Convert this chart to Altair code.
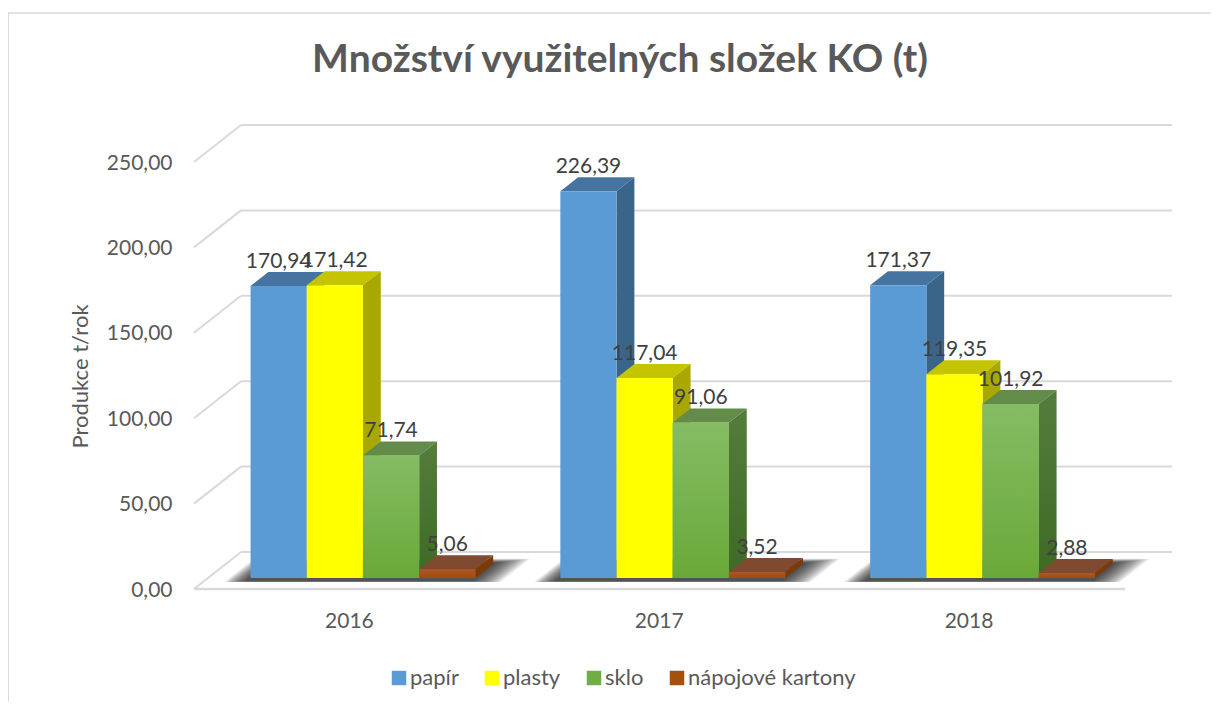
import altair as alt
import pandas as pd

years = [2016, 2017, 2018]
series = ["papír", "plasty", "sklo", "nápojové kartony"]
values = {
    "papír": [170.94, 226.39, 171.37],
    "plasty": [171.42, 117.04, 119.35],
    "sklo": [71.74, 91.06, 101.92],
    "nápojové kartony": [5.06, 3.52, 2.88],
}
front_colors = ["#5b9bd5", "#ffff00", "#70ad47", "#a5500f"]
top_colors = ["#44749f", "#c4c400", "#638b4a", "#804a31"]
side_colors = ["#3b6489", "#a8a800", "#4a7332", "#7c3a0a"]
y_ticks = [0, 50, 100, 150, 200, 250]

FONT = "Lato"
TEXT = "#595959"
GRID = "#d9d9d9"

# plot-area size and scales (year units / value units)
W, H = 978, 464
PX_PER_YEAR = 309.8
PX_PER_VAL = 1.708
x_dom = [2015.5, 2015.5 + W / PX_PER_YEAR]
y_dom = [0, H / PX_PER_VAL]
xs = alt.Scale(domain=x_dom, nice=False, zero=False)
ys = alt.Scale(domain=y_dom, nice=False, zero=False)
X = lambda f="x:Q": alt.X(f, scale=xs, axis=None)
Y = lambda f="y:Q": alt.Y(f, scale=ys, axis=None)

# oblique projection of depth (0 = front of floor, 1 = back wall)
DX = 47 / PX_PER_YEAR
DY = 37 / PX_PER_VAL
D0, D1 = 0.297, 0.676
BAR = 56.2 / PX_PER_YEAR
GROUP_LEFT = -0.5 + 42.6 / PX_PER_YEAR


def gradient(c0, c1):
    return alt.Gradient(gradient="linear", x1=0, y1=0, x2=0, y2=1,
                        stops=[alt.GradientStop(color=c0, offset=0),
                               alt.GradientStop(color=c1, offset=1)])


def bar_x(year, i):
    return year + GROUP_LEFT + i * BAR


def side_df(i, name):
    rows = []
    for year, v in zip(years, values[name]):
        xr = bar_x(year, i) + BAR
        for d in (D0, D1):
            rows.append(dict(g=year, x=xr + d * DX, top=v + d * DY, bot=d * DY))
    return pd.DataFrame(rows)


def top_df(i, name):
    rows = []
    for year, v in zip(years, values[name]):
        xl = bar_x(year, i)
        for d in (D0, D1):
            rows.append(dict(g=year, y=v + d * DY, x=xl + d * DX, x2=xl + BAR + d * DX))
    return pd.DataFrame(rows)


def front_df(i, name):
    rows = []
    for year, v in zip(years, values[name]):
        xl = bar_x(year, i) + D0 * DX
        rows.append(dict(series=name, x=xl, x2=xl + BAR, y=v + D0 * DY, y2=D0 * DY,
                         cx=xl + BAR / 2, label=f"{v:.2f}".replace(".", ",")))
    return pd.DataFrame(rows)


# walls and floor
back_df = pd.DataFrame({"x": [x_dom[0] + DX] * 6, "x2": [x_dom[1]] * 6,
                        "y": [t + DY for t in y_ticks]})
diag_df = pd.DataFrame({"x": [x_dom[0]] * 6, "x2": [x_dom[0] + DX] * 6,
                        "y": y_ticks, "y2": [t + DY for t in y_ticks]})
floor_df = pd.DataFrame({"x": [x_dom[0]], "x2": [x_dom[1] - DX], "y": [0]})

back = alt.Chart(back_df).mark_rule(color=GRID, strokeWidth=2).encode(x=X(), x2="x2:Q", y=Y())
diag = alt.Chart(diag_df).mark_rule(color=GRID, strokeWidth=2).encode(x=X(), x2="x2:Q", y=Y(), y2="y2:Q")
floor = alt.Chart(floor_df).mark_rule(color=GRID, strokeWidth=2.5).encode(x=X(), x2="x2:Q", y=Y())

# real axes, on a layer of their own
axes_df = pd.DataFrame({"x": [years[0]], "y": [0]})
axes = alt.Chart(axes_df).mark_point(opacity=0).encode(
    x=alt.X("x:Q", scale=xs, axis=alt.Axis(
        values=years, format="d", title=None, domain=False, ticks=False, grid=False,
        labelFont=FONT, labelFontSize=21, labelColor=TEXT, labelPadding=21)),
    y=alt.Y("y:Q", scale=ys, axis=alt.Axis(
        values=y_ticks, title="Produkce t/rok", domain=False, ticks=False, grid=False,
        labelExpr="replace(format(datum.value, '.2f'), '.', ',')",
        labelFont=FONT, labelFontSize=21, labelColor=TEXT, labelPadding=22, labelOffset=1,
        titleFont=FONT, titleFontSize=22, titleFontWeight="normal", titleColor=TEXT,
        titleX=-102, titleY=251, titleAnchor="middle")),
)

# floor shadow: stacked soft parallelograms
shadow_layers = []
N_SHADOW = 12
for k in range(N_SHADOW):
    t = 1 - k / N_SHADOW
    rows = []
    for year in years:
        xl = bar_x(year, 0) - t * 21 / PX_PER_YEAR
        xr = bar_x(year, 4) + t * 30 / PX_PER_YEAR
        for d in (D0 - 0.09 - t * 0.02, D1 + 0.03 + t * 0.11):
            rows.append(dict(g=year, y=d * DY, x=xl + d * DX, x2=xr + d * DX))
    shadow_layers.append(
        alt.Chart(pd.DataFrame(rows)).mark_area(orient="horizontal", color="#000000", opacity=0.085).encode(
            y=Y(), x=X(), x2="x2:Q", detail="g:N"))

color_scale = alt.Scale(domain=series, range=front_colors)
legend = alt.Legend(
    title=None, orient="none", legendX=194, legendY=542, direction="horizontal", columns=4,
    symbolType="square", symbolSize=210, symbolStrokeWidth=0, labelOffset=0, labelLimit=400,
    columnPadding=22, labelFont=FONT, labelFontSize=22, labelColor=TEXT)

bar_layers = []
for i, name in enumerate(series):
    top = alt.Chart(top_df(i, name)).mark_area(orient="horizontal", color=top_colors[i]).encode(
        y=Y(), x=X(), x2="x2:Q", detail="g:N")
    side_fill = gradient("#557d3d", "#3d6a24") if name == "sklo" else side_colors[i]
    side = alt.Chart(side_df(i, name)).mark_area(color=side_fill).encode(
        x=X(), y=Y("top:Q"), y2="bot:Q", detail="g:N")
    fdf = front_df(i, name)
    front = alt.Chart(fdf).mark_rect().encode(
        x=X(), x2="x2:Q", y=Y(), y2="y2:Q",
        color=alt.Color("series:N", scale=color_scale, legend=legend, sort=series))
    bar_layers += [top, side, front]
    if name in ("sklo", "nápojové kartony"):
        grad = gradient("#85bc64", "#69a938") if name == "sklo" else gradient("#a8582a", "#a64a06")
        bar_layers.append(alt.Chart(fdf).mark_rect(fill=grad).encode(
            x=X(), x2="x2:Q", y=Y(), y2="y2:Q"))

labels_df = pd.concat([front_df(i, n) for i, n in enumerate(series)], ignore_index=True)
labels = alt.Chart(labels_df).mark_text(font=FONT, fontSize=21, color="#404040", baseline="middle", dy=-24).encode(
    x=X("cx:Q"), y=Y(), text="label:N")

# outer chart frame
frame_left = alt.Chart(axes_df).mark_rule(color="#d9d9d9", strokeWidth=2).encode(
    x=alt.value(-186), y=alt.value(-112), y2=alt.value(576))
frame_top = alt.Chart(axes_df).mark_rule(color="#d9d9d9", strokeWidth=1.5).encode(
    x=alt.value(-186), x2=alt.value(1017), y=alt.value(-112))

chart = alt.layer(
    frame_left, frame_top, axes, back, diag, floor, *shadow_layers, *bar_layers, labels
).resolve_axis(x="independent", y="independent").properties(
    width=W, height=H,
    title=alt.TitleParams("Množství využitelných složek KO (t)", font=FONT, fontSize=39,
                          fontWeight="bold", color=TEXT, anchor="middle", frame="group",
                          baseline="alphabetic", dx=-63, offset=-98.75),
    padding={"left": 186, "top": 117, "right": 39, "bottom": 112},
    autosize=alt.AutoSizeParams(type="none"),
    background="#ffffff",
).configure_view(stroke=None)

chart.save("out.html", embed_options={"renderer": "svg", "actions": False})
